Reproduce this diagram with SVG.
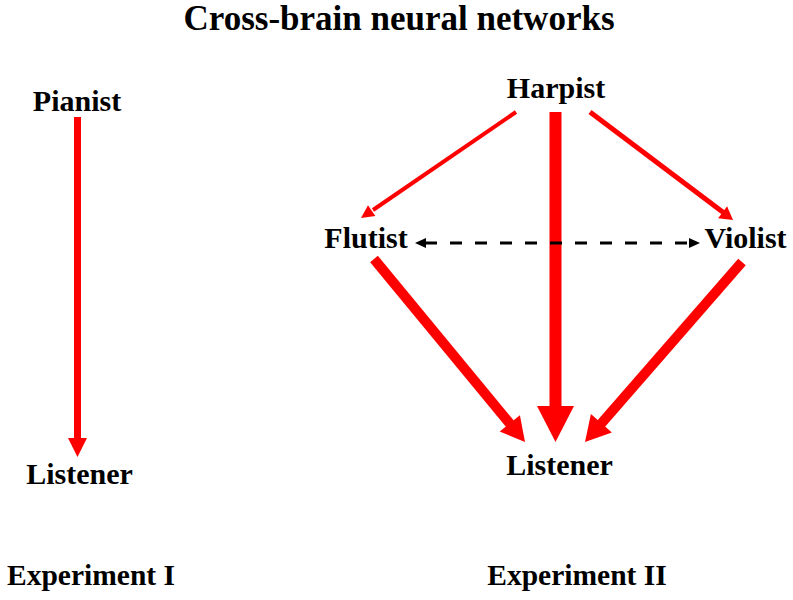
<svg xmlns="http://www.w3.org/2000/svg" width="793" height="600" viewBox="0 0 793 600">
<style>
text{font-family:"Liberation Serif","Times New Roman",serif;font-weight:bold;fill:#000;text-anchor:middle}
.t{font-size:35px}
.n{font-size:30px}
.e{font-size:29.5px}
.r{stroke:#ff0000;fill:none}
.h{fill:#ff0000;stroke:none}
.d{stroke:#000;stroke-width:3;stroke-dasharray:12 13;fill:none}
.k{fill:#000;stroke:none}
</style>
<rect width="793" height="600" fill="#fff"/>
<text class="t" x="399" y="30">Cross-brain neural networks</text>
<g id="connectors">
<line class="r" x1="77.5" y1="117" x2="77.5" y2="440" stroke-width="7"/>
<polygon class="h" points="68,438 87,438 77.5,457"/>
<line class="r" x1="516" y1="112" x2="373" y2="210" stroke-width="4"/>
<polygon class="h" points="361,218 375.4,216.1 368,205.3"/>
<line class="r" x1="590" y1="112" x2="724" y2="213" stroke-width="5"/>
<polygon class="h" points="733,220 718.1,218.2 727.1,206.2"/>
<line class="r" x1="555.5" y1="112" x2="555.5" y2="408" stroke-width="12"/>
<polygon class="h" points="537,406 574,406 555.5,442"/>
<line class="r" x1="374" y1="259" x2="511" y2="425" stroke-width="10"/>
<polygon class="h" points="525,442 499.7,431.6 519.9,415.2"/>
<line class="r" x1="742" y1="262" x2="600" y2="425" stroke-width="10"/>
<polygon class="h" points="585,442 611.9,432.4 590.9,414"/>
<line class="d" x1="425" y1="243" x2="690" y2="243"/>
<polygon class="k" points="415,243 426,238 426,248"/>
<polygon class="k" points="700,243 689,238 689,248"/>
</g>
<g id="pianist"><text class="n" x="77" y="111">Pianist</text></g>
<g id="listener1"><text class="n" x="79.5" y="484">Listener</text></g>
<g id="harpist"><text class="n" x="556" y="98">Harpist</text></g>
<g id="flutist"><text class="n" x="366" y="248">Flutist</text></g>
<g id="violist"><text class="n" x="745.5" y="248">Violist</text></g>
<g id="listener2"><text class="n" x="559.5" y="475">Listener</text></g>
<g id="exp1"><text class="e" x="91" y="585">Experiment I</text></g>
<g id="exp2"><text class="e" x="577" y="585">Experiment II</text></g>
</svg>
